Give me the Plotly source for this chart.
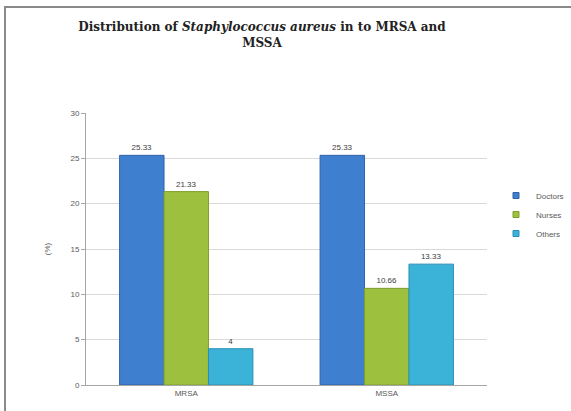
import plotly.graph_objects as go

# Data
categories = ["MRSA", "MSSA"]
doctors = [25.33, 25.33]
nurses = [21.33, 10.66]
others = [4, 13.33]
series_names = ["Doctors", "Nurses", "Others"]
series_values = [doctors, nurses, others]
series_labels = [["25.33", "25.33"], ["21.33", "10.66"], ["4", "13.33"]]
y_ticks = [0, 5, 10, 15, 20, 25, 30]

colors = ["#3f7fcf", "#9dc13f", "#3bb3d9"]
edges = ["#2f63a8", "#7f9e2c", "#2a8fb3"]

W, H = 571, 411
L, R, T, B = 86, 84, 113, 26

fig = go.Figure()
for name, vals, labels, c, e in zip(series_names, series_values, series_labels, colors, edges):
    fig.add_trace(go.Bar(
        x=categories, y=vals, name=name, showlegend=False,
        marker=dict(color=c, line=dict(color=e, width=1)),
        text=labels, textposition="outside", cliponaxis=False,
        textfont=dict(family="Liberation Sans", size=8, color="#404040"),
    ))
    # small square legend keys
    fig.add_trace(go.Scatter(
        x=[None], y=[None], mode="markers", name=name,
        marker=dict(symbol="square", size=6, color=c, line=dict(color=e, width=1)),
    ))

# frame lines around the image (left and top)
pw, ph = W - L - R, H - T - B
def px_x(x):
    return (x - L) / pw
def px_y(y):
    return (H - B - y) / ph

fig.add_shape(type="line", xref="paper", yref="paper",
              x0=px_x(5), x1=px_x(5), y0=px_y(7), y1=px_y(411),
              line=dict(color="#8a8a8a", width=2))
fig.add_shape(type="line", xref="paper", yref="paper",
              x0=px_x(4), x1=px_x(571), y0=px_y(7), y1=px_y(7),
              line=dict(color="#8a8a8a", width=2))

fig.update_layout(
    width=W, height=H,
    margin=dict(l=L, r=R, t=T, b=B, autoexpand=False),
    paper_bgcolor="white", plot_bgcolor="white",
    barmode="group", bargap=0.335, bargroupgap=0,
    title=dict(
        text="<b>Distribution of <i>Staphylococcus aureus</i> in to MRSA and<br>MSSA</b>",
        x=262 / W, xanchor="center", y=1 - 31 / H, yanchor="top",
        font=dict(family="DejaVu Serif", size=12, color="#222222"),
    ),
    showlegend=True,
    legend=dict(
        x=px_x(496), xanchor="left", y=px_y(181), yanchor="top",
        font=dict(family="Liberation Sans", size=8, color="#595959"),
        itemsizing="trace", tracegroupgap=0, bgcolor="rgba(0,0,0,0)",
    ),
    xaxis=dict(
        showline=True, linecolor="#a6a6a6", linewidth=1,
        ticks="", showgrid=False,
        tickfont=dict(family="Liberation Sans", size=8, color="#595959"),
    ),
    yaxis=dict(
        range=[0, 30], tickvals=y_ticks,
        showline=True, linecolor="#a6a6a6", linewidth=1,
        ticks="outside", ticklen=4, tickcolor="#a6a6a6",
        showgrid=True, gridcolor="#d9d9d9", gridwidth=1,
        zeroline=False,
        tickfont=dict(family="Liberation Sans", size=8, color="#595959"),
        title=dict(text="(%)", standoff=18,
                   font=dict(family="Liberation Sans", size=8, color="#595959")),
    ),
)

fig.write_html("out.html")
